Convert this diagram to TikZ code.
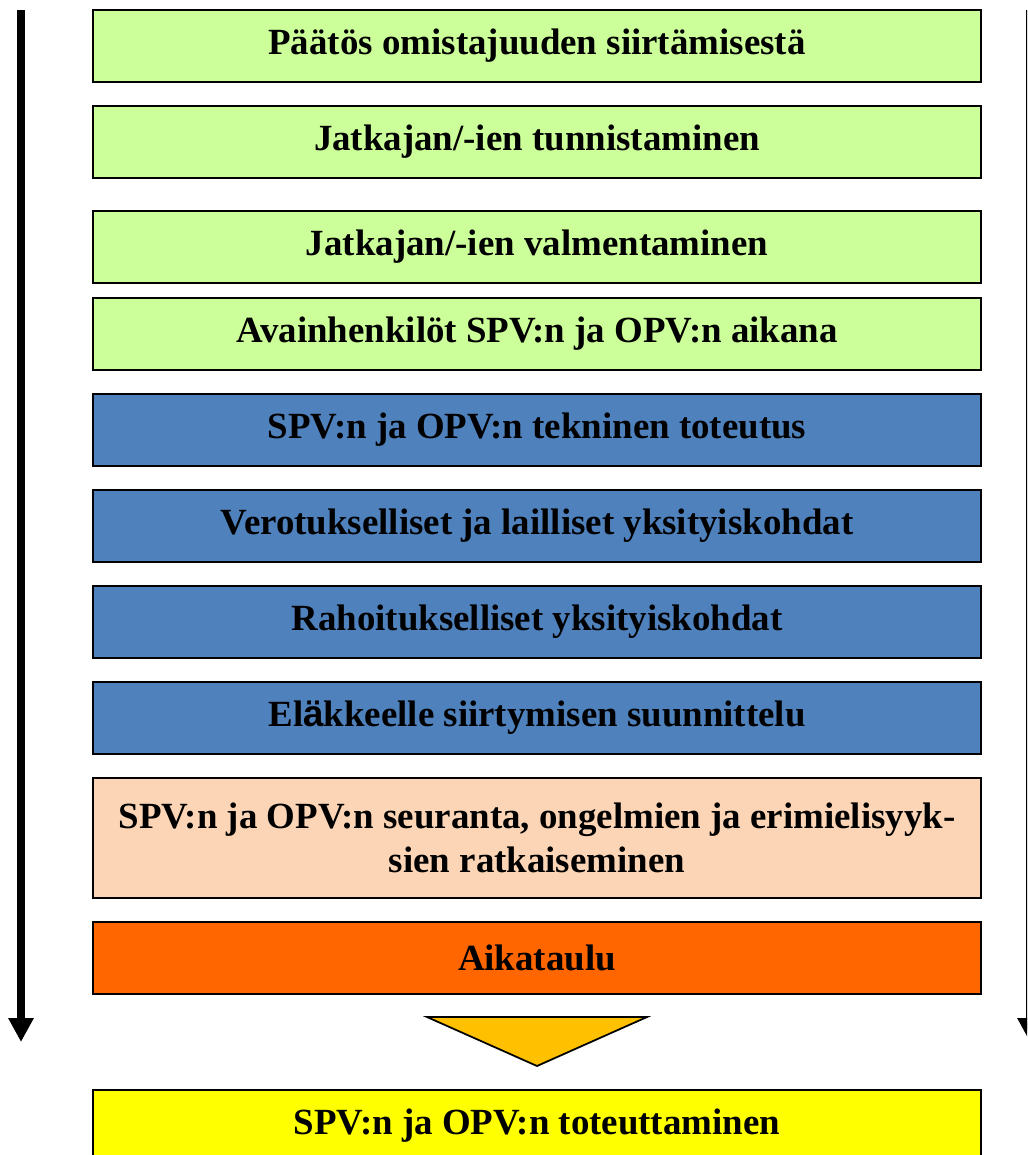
\documentclass[tikz,border=0pt]{standalone}
\usepackage{fontspec}
\setmainfont{Liberation Serif}
\newfontfamily\sansglyph{Liberation Sans}
\usetikzlibrary{arrows.meta,positioning}

\definecolor{stepgreen}{HTML}{CCFF99}
\definecolor{stepblue}{HTML}{4F81BD}
\definecolor{steppeach}{HTML}{FBD5B5}
\definecolor{steporange}{HTML}{FF6600}
\definecolor{stepyellow}{HTML}{FFFF00}
\definecolor{funnel}{HTML}{FFC000}

\begin{document}
\begin{tikzpicture}[
    stepbox/.style={draw=black, line width=0.7pt, minimum width=8.88cm, minimum height=0.72cm,
        inner sep=0pt, align=center, font=\fontsize{10.5}{12.6}\selectfont\bfseries},
    timeline/.style={line width=0.08cm, -{Triangle[width=0.24cm,length=0.24cm]}}]
        \useasboundingbox (0,0) rectangle (10.27,-11.55);
        \clip (0,0) rectangle (10.27,-11.55);

        \coordinate (ltop) at (0.21,-0.10);
        \coordinate (lend) at (0.21,-10.42);
        \coordinate (rtop) at (10.30,-0.10);
        \coordinate (rend) at (10.30,-10.42);

        \node[stepbox, fill=stepgreen] (paatos) at (5.37,-0.46) {Päätös omistajuuden siirtämisestä};
        \node[stepbox, fill=stepgreen] (tunnistus) at (5.37,-1.42) {Jatkajan/-ien tunnistaminen};
        \node[stepbox, fill=stepgreen] (valmennus) at (5.37,-2.47) {Jatkajan/-ien valmentaminen};
        \node[stepbox, fill=stepgreen] (avain) at (5.37,-3.34) {Avainhenkilöt SPV:n ja OPV:n aikana};
        \node[stepbox, fill=stepblue] (tekninen) at (5.37,-4.30) {SPV:n ja OPV:n tekninen toteutus};
        \node[stepbox, fill=stepblue] (verotus) at (5.37,-5.26) {Verotukselliset ja lailliset yksityiskohdat};
        \node[stepbox, fill=stepblue] (rahoitus) at (5.37,-6.22) {Rahoitukselliset yksityiskohdat};
        \node[stepbox, fill=stepblue] (elake) at (5.37,-7.18) {El{\sansglyph ä}kkeelle siirtymisen suunnittelu};
        \node[stepbox, fill=steppeach, minimum height=1.20cm] (seuranta) at (5.37,-8.38)
            {SPV:n ja OPV:n seuranta, ongelmien ja erimielisyyk-\\sien ratkaiseminen};
        \node[stepbox, fill=steporange] (aikataulu) at (5.37,-9.58) {Aikataulu};
        \node[stepbox, fill=stepyellow] (toteutus) at (5.37,-11.26) {SPV:n ja OPV:n toteuttaminen};

        \coordinate (f1) at (4.27,-10.17);
        \coordinate (f2) at (6.47,-10.17);
        \coordinate (f3) at (5.37,-10.66);
        \filldraw[fill=funnel, draw=black, line width=0.5pt] (f1) -- (f2) -- (f3) -- cycle;

        \draw[timeline] (ltop) -- (lend);
        \draw[timeline] (rtop) -- (rend);
    \end{tikzpicture}
\end{document}
